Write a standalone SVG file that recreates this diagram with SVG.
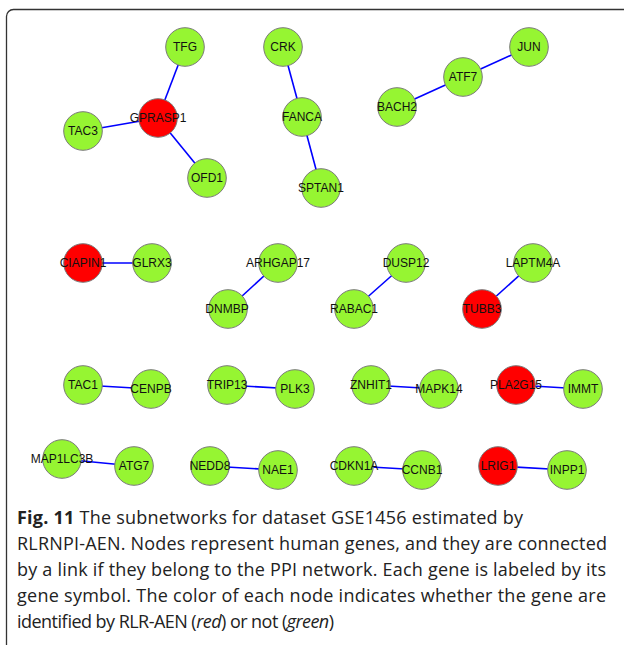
<svg xmlns="http://www.w3.org/2000/svg" width="624" height="645" viewBox="0 0 624 645">
<style>
.n{stroke:#7a7a7a;stroke-width:1}
.g{fill:#96f532}
.r{fill:#ff0000}
.l{font-family:"Liberation Sans",Arial,sans-serif;font-size:12px;fill:#111;text-anchor:middle;dominant-baseline:central}
.e line{stroke:#0000ff;stroke-width:1.6}
.cap{font-family:"Open Sans","Noto Sans",sans-serif;font-size:18px;fill:#222}
</style>
<rect width="624" height="645" fill="#fff"/>
<rect x="6.5" y="9.5" width="700" height="700" rx="7" fill="none" stroke="#333" stroke-width="1.3"/>
<g id="edges" class="e">
<line x1="185" y1="47" x2="158" y2="118"/>
<line x1="83" y1="131" x2="158" y2="118"/>
<line x1="207" y1="178" x2="158" y2="118"/>
<line x1="283" y1="47" x2="302" y2="117"/>
<line x1="302" y1="117" x2="321" y2="188"/>
<line x1="529" y1="47" x2="463" y2="77"/>
<line x1="463" y1="77" x2="397" y2="107"/>
<line x1="83" y1="263" x2="152" y2="263"/>
<line x1="278" y1="263" x2="228" y2="309"/>
<line x1="406" y1="263" x2="354" y2="309"/>
<line x1="533" y1="263" x2="482" y2="309"/>
<line x1="83" y1="385" x2="151" y2="389"/>
<line x1="227" y1="385" x2="295" y2="389"/>
<line x1="371" y1="385" x2="439" y2="389"/>
<line x1="516" y1="385" x2="583" y2="389"/>
<line x1="62" y1="459" x2="134" y2="466"/>
<line x1="210" y1="466" x2="278" y2="470"/>
<line x1="354" y1="466" x2="422" y2="470"/>
<line x1="498" y1="466" x2="567" y2="470"/>
</g>
<g id="TFG"><circle class="n g" cx="185" cy="47" r="19.3"/><text class="l" x="185" y="47">TFG</text></g>
<g id="CRK"><circle class="n g" cx="283" cy="47" r="19.3"/><text class="l" x="283" y="47">CRK</text></g>
<g id="GPRASP1"><circle class="n r" cx="158" cy="118" r="19.3"/><text class="l" x="158" y="118">GPRASP1</text></g>
<g id="TAC3"><circle class="n g" cx="83" cy="131" r="19.3"/><text class="l" x="83" y="131">TAC3</text></g>
<g id="OFD1"><circle class="n g" cx="207" cy="178" r="19.3"/><text class="l" x="207" y="178">OFD1</text></g>
<g id="FANCA"><circle class="n g" cx="302" cy="117" r="19.3"/><text class="l" x="302" y="117">FANCA</text></g>
<g id="SPTAN1"><circle class="n g" cx="321" cy="188" r="19.3"/><text class="l" x="321" y="188">SPTAN1</text></g>
<g id="JUN"><circle class="n g" cx="529" cy="47" r="19.3"/><text class="l" x="529" y="47">JUN</text></g>
<g id="ATF7"><circle class="n g" cx="463" cy="77" r="19.3"/><text class="l" x="463" y="77">ATF7</text></g>
<g id="BACH2"><circle class="n g" cx="397" cy="107" r="19.3"/><text class="l" x="397" y="107">BACH2</text></g>
<g id="CIAPIN1"><circle class="n r" cx="83" cy="263" r="19.3"/><text class="l" x="83" y="263">CIAPIN1</text></g>
<g id="GLRX3"><circle class="n g" cx="152" cy="263" r="19.3"/><text class="l" x="152" y="263">GLRX3</text></g>
<g id="ARHGAP17"><circle class="n g" cx="278" cy="263" r="19.3"/><text class="l" x="278" y="263">ARHGAP17</text></g>
<g id="DNMBP"><circle class="n g" cx="228" cy="309" r="19.3"/><text class="l" x="227" y="309">DNMBP</text></g>
<g id="DUSP12"><circle class="n g" cx="406" cy="263" r="19.3"/><text class="l" x="406" y="263">DUSP12</text></g>
<g id="RABAC1"><circle class="n g" cx="354" cy="309" r="19.3"/><text class="l" x="354" y="309">RABAC1</text></g>
<g id="LAPTM4A"><circle class="n g" cx="533" cy="263" r="19.3"/><text class="l" x="533" y="263">LAPTM4A</text></g>
<g id="TUBB3"><circle class="n r" cx="482" cy="309" r="19.3"/><text class="l" x="482" y="309">TUBB3</text></g>
<g id="TAC1"><circle class="n g" cx="83" cy="385" r="19.3"/><text class="l" x="83" y="385">TAC1</text></g>
<g id="CENPB"><circle class="n g" cx="151" cy="389" r="19.3"/><text class="l" x="151" y="389">CENPB</text></g>
<g id="TRIP13"><circle class="n g" cx="227" cy="385" r="19.3"/><text class="l" x="227" y="385">TRIP13</text></g>
<g id="PLK3"><circle class="n g" cx="295" cy="389" r="19.3"/><text class="l" x="295" y="389">PLK3</text></g>
<g id="ZNHIT1"><circle class="n g" cx="371" cy="385" r="19.3"/><text class="l" x="371" y="385">ZNHIT1</text></g>
<g id="MAPK14"><circle class="n g" cx="439" cy="389" r="19.3"/><text class="l" x="439" y="389">MAPK14</text></g>
<g id="PLA2G15"><circle class="n r" cx="516" cy="385" r="19.3"/><text class="l" x="516" y="385">PLA2G15</text></g>
<g id="IMMT"><circle class="n g" cx="583" cy="389" r="19.3"/><text class="l" x="583" y="389">IMMT</text></g>
<g id="MAP1LC3B"><circle class="n g" cx="62" cy="459" r="19.3"/><text class="l" x="62" y="459">MAP1LC3B</text></g>
<g id="ATG7"><circle class="n g" cx="134" cy="466" r="19.3"/><text class="l" x="134" y="466">ATG7</text></g>
<g id="NEDD8"><circle class="n g" cx="210" cy="466" r="19.3"/><text class="l" x="210" y="466">NEDD8</text></g>
<g id="NAE1"><circle class="n g" cx="278" cy="470" r="19.3"/><text class="l" x="278" y="470">NAE1</text></g>
<g id="CDKN1A"><circle class="n g" cx="354" cy="466" r="19.3"/><text class="l" x="354" y="466">CDKN1A</text></g>
<g id="CCNB1"><circle class="n g" cx="422" cy="470" r="19.3"/><text class="l" x="422" y="470">CCNB1</text></g>
<g id="LRIG1"><circle class="n r" cx="498" cy="466" r="19.3"/><text class="l" x="498" y="466">LRIG1</text></g>
<g id="INPP1"><circle class="n g" cx="567" cy="470" r="19.3"/><text class="l" x="567" y="470">INPP1</text></g>
<g id="caption" class="cap">
<text x="17" y="524" textLength="506"><tspan font-weight="bold">Fig. 11</tspan> The subnetworks for dataset GSE1456 estimated by</text>
<text x="17" y="550" textLength="590">RLRNPI-AEN. Nodes represent human genes, and they are connected</text>
<text x="17" y="576" textLength="589">by a link if they belong to the PPI network. Each gene is labeled by its</text>
<text x="17" y="602" textLength="589">gene symbol. The color of each node indicates whether the gene are</text>
<text x="17" y="628" textLength="317">identified by RLR-AEN (<tspan font-style="italic">red</tspan>) or not (<tspan font-style="italic">green</tspan>)</text>
</g>
</svg>
